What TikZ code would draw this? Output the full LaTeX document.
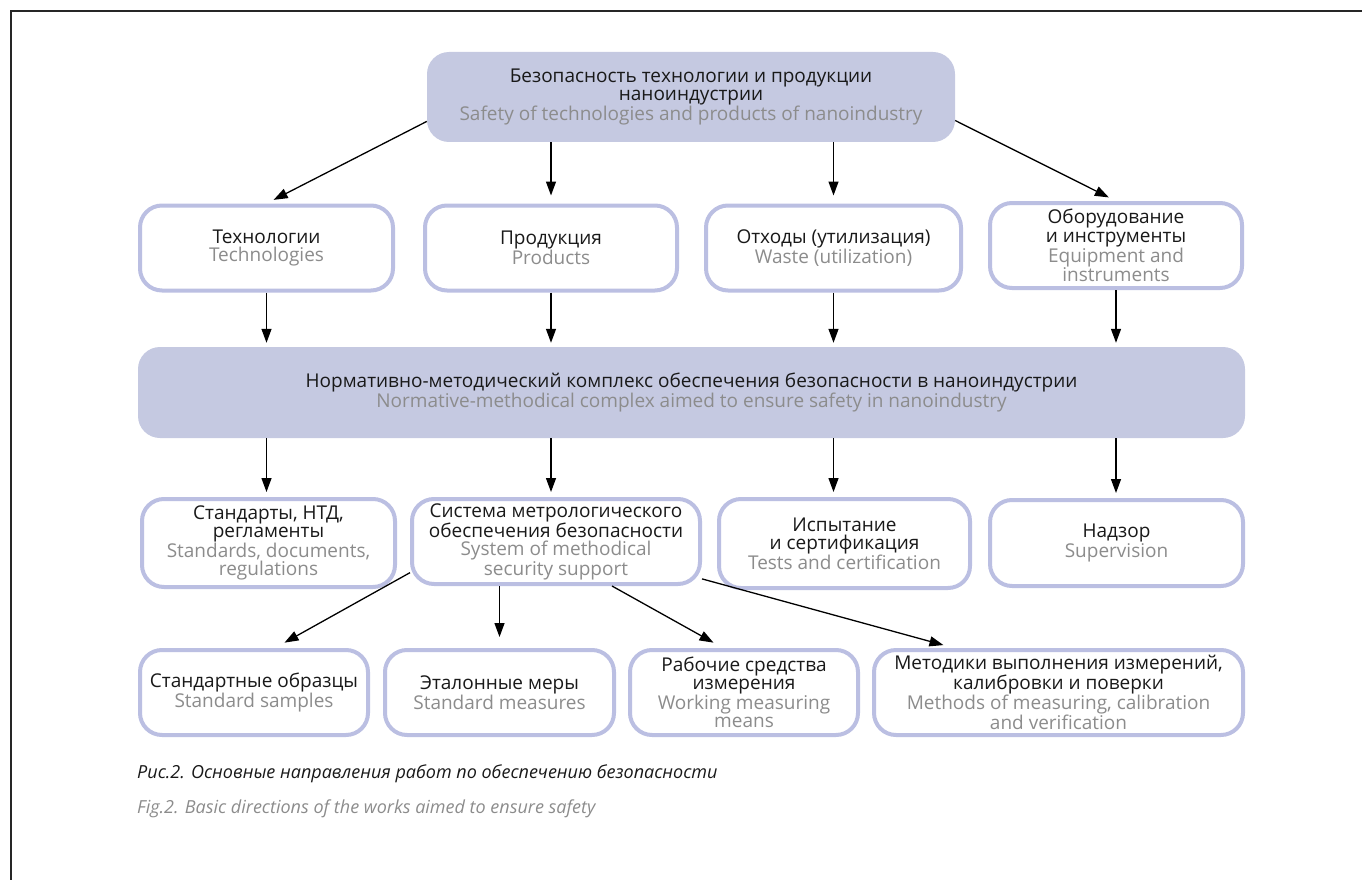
\documentclass[tikz,border=0pt]{standalone}
\usepackage{fontspec}
\setmainfont{Open Sans}
\usetikzlibrary{arrows.meta,calc}
\definecolor{lavender}{RGB}{197,201,225}
\colorlet{boxfill}{lavender}
\colorlet{boxline}{lavender!95!blue}
\colorlet{engtext}{black!45}
\newcommand{\en}[1]{{\color{engtext}#1}}
\newcommand{\boxfont}{\fontsize{19}{18.2}\selectfont}
\newcommand{\capfont}{\fontsize{18}{20}\selectfont\itshape}

\begin{document}
\begin{tikzpicture}[x=1pt,y=-1pt,
    any/.style={rectangle,rounded corners=22pt,align=center,inner sep=0pt,%
                font=\boxfont,text=black!90},
    filled/.style={any,fill=boxfill},
    framed/.style={any,draw=boxline,line width=4pt,fill=white,minimum height=85pt},
    link/.style={-{Triangle[length=14pt,width=10pt]},line width=1.3pt,shorten >=8pt}
]
\useasboundingbox (0,0) rectangle (1362,880);
\draw[line width=1.5pt,black!85] (1362,11) -- (11,11) -- (11,880);

\node[filled,minimum width=528pt,minimum height=90pt] (safety) at (691,97)
  {Безопасность технологии и продукции\\наноиндустрии\\\en{Safety of technologies and products of nanoindustry}};

\node[framed,minimum width=253pt] (tech) at (266.5,248) {Технологии\\\en{Technologies}};
\node[framed,minimum width=252pt] (prod) at (551,248) {Продукция\\\en{Products}};
\node[framed,minimum width=255pt] (waste) at (833.5,248) {Отходы (утилизация)\\\en{Waste (utilization)}};
\node[framed,minimum width=252pt] (equip) at (1116,245.5) {Оборудование\\и инструменты\\\en{Equipment and}\\\en{instruments}};

\node[filled,minimum width=1107pt,minimum height=91pt] (norm) at (691.5,392.5)
  {Нормативно-методический комплекс обеспечения безопасности в наноиндустрии\\\en{Normative-methodical complex aimed to ensure safety in nanoindustry}};

\node[framed,minimum width=253pt,minimum height=88pt] (std) at (268.5,543) {Стандарты, НТД,\\регламенты\\\en{Standards, documents,}\\\en{regulations}};
\node[framed,minimum width=288pt] (sys) at (556,541.5) {Система метрологического\\обеспечения безопасности\\\en{System of methodical}\\\en{security support}};
\node[framed,minimum width=251pt,minimum height=89pt] (test) at (844.5,543.5) {Испытание\\и сертификация\\\en{Tests and certification}};
\node[framed,minimum width=253pt,minimum height=86pt] (super) at (1116.5,543) {Надзор\\\en{Supervision}};

\node[framed,minimum width=228pt] (samp) at (254,692.5) {Стандартные образцы\\\en{Standard samples}};
\node[framed,minimum width=229pt] (meas) at (499.5,692.5) {Эталонные меры\\\en{Standard measures}};
\node[framed,minimum width=228pt] (work) at (744,692.5) {Рабочие средства\\измерения\\\en{Working measuring}\\\en{means}};
\node[framed,minimum width=369pt] (meth) at (1058.5,692.5) {Методики выполнения измерений,\\калибровки и поверки\\\en{Methods of measuring, calibration}\\\en{and verification}};

\node[anchor=base west,inner sep=0pt,font=\capfont,text=black!90] (capru) at (137,778)
  {Рис.2. Основные направления работ по обеспечению безопасности};
\node[anchor=base west,inner sep=0pt,font=\capfont,text=engtext] (capen) at (137,813)
  {Fig.2. Basic directions of the works aimed to ensure safety};

\draw[link] ($(safety.south west)!0.23!(safety.north west)$) -- (tech.north);
\draw[link] (safety.south -| prod) -- (prod.north);
\draw[link] (safety.south -| waste) -- (waste.north);
\draw[link] ($(safety.south east)!0.24!(safety.north east)$) -- (equip.north);

\foreach \n in {tech,prod,waste,equip}
  \draw[link,shorten >=4pt] (\n.south) -- (\n |- norm.north);

\draw[link,shorten >=5pt] (norm.south -| tech) -- (std.north -| tech);
\draw[link,shorten >=5pt] (norm.south -| prod) -- (sys.north -| prod);
\draw[link,shorten >=5pt] (norm.south -| waste) -- (test.north -| waste);
\draw[link,shorten >=5pt] (norm.south -| equip) -- (super.north -| equip);

\draw[link,shorten >=11pt] ($(sys.south west)!0.15!(sys.north west)$) -- ($(samp.north west)!0.59!(samp.north east)$);
\draw[link,shorten >=11pt] (sys.south -| meas) -- (meas.north);
\draw[link,shorten >=11pt] ($(sys.south)+(56,0)$) -- ($(work.north west)!0.41!(work.north east)$);
\draw[link,shorten >=11pt] ($(sys.south east)!0.08!(sys.north east)$) -- ($(meth.north west)!0.22!(meth.north east)$);
\end{tikzpicture}
\end{document}
